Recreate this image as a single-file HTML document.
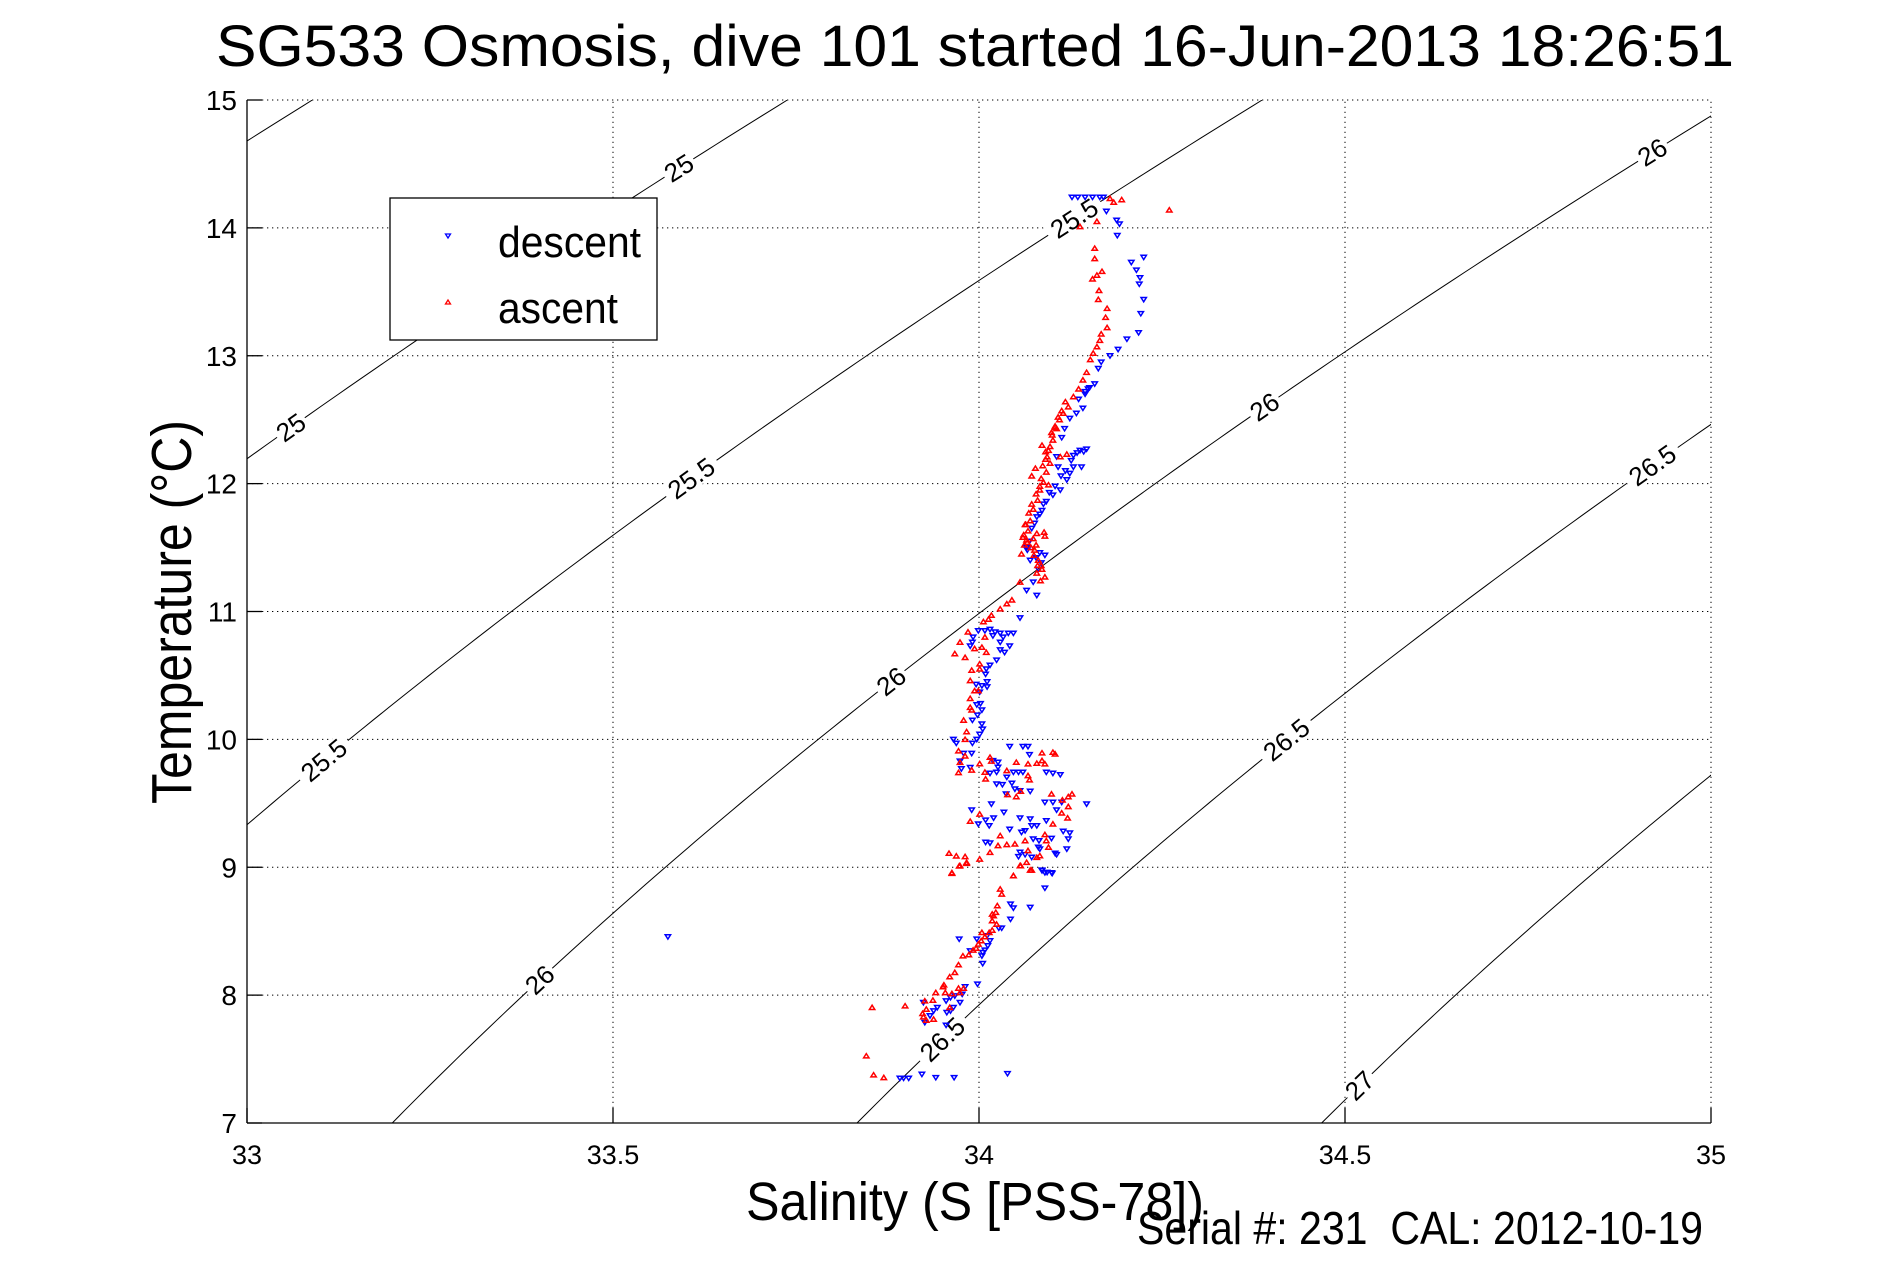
<!DOCTYPE html>
<html><head><meta charset="utf-8"><style>
html,body{margin:0;padding:0;background:#fff;}
svg{display:block;font-family:"Liberation Sans",sans-serif;}
</style></head><body>
<svg id="chart" width="1891" height="1262" viewBox="0 0 1891 1262" xmlns="http://www.w3.org/2000/svg">
<rect width="1891" height="1262" fill="#fff"/>
<text x="216" y="66" font-size="58" textLength="1518" lengthAdjust="spacingAndGlyphs">SG533 Osmosis, dive 101 started 16-Jun-2013 18:26:51</text>
<defs><clipPath id="plotclip"><rect x="247" y="100" width="1464" height="1023"/></clipPath></defs>
<g id="grid"></g>
<g id="contours" clip-path="url(#plotclip)"></g>
<g id="clabels"></g>
<g id="descent"></g>
<g id="ascent"></g>
<g id="axes"></g>
<text transform="translate(191,612) rotate(-90)" text-anchor="middle" font-size="57" textLength="384" lengthAdjust="spacingAndGlyphs">Temperature (°C)</text>
<text x="746" y="1220" font-size="54" textLength="458" lengthAdjust="spacingAndGlyphs">Salinity (S [PSS-78])</text>
<text x="1137" y="1244" font-size="46" textLength="566" lengthAdjust="spacingAndGlyphs">Serial #: 231&#160; CAL: 2012-10-19</text>
<g>
<rect x="390" y="198" width="267" height="142" fill="#fff" stroke="#000" stroke-width="1.3"/>
<path d="M445.5,234 L450.5,234 L448,238 Z" fill="none" stroke="#00f" stroke-width="1.3"/>
<text x="498" y="257" font-size="44" textLength="143" lengthAdjust="spacingAndGlyphs">descent</text>
<path d="M445.5,304 L450.5,304 L448,300 Z" fill="none" stroke="#f00" stroke-width="1.3"/>
<text x="498" y="323" font-size="44" textLength="120" lengthAdjust="spacingAndGlyphs">ascent</text>
</g>
</svg>
<script>
const xTicks = [33, 33.5, 34, 34.5, 35];
const xTickLabels = ["33", "33.5", "34", "34.5", "35"];
const yTicks = [7, 8, 9, 10, 11, 12, 13, 14, 15];
const yTickLabels = ["7", "8", "9", "10", "11", "12", "13", "14", "15"];
const sigmaLevels = [24.5, 25, 25.5, 26, 26.5, 27];
const labelLevels = [25, 25, 25.5, 25.5, 25.5, 26, 26, 26, 26, 26.5, 26.5, 26.5, 27];
const labelSal = [33.59, 33.06, 33.105, 33.607, 34.13, 33.40, 33.88, 34.39, 34.92, 33.95, 34.42, 34.92, 34.52];
const descentS = [34.127,34.135,34.145,34.155,34.165,34.170,34.174,34.188,34.192,34.189,34.225,34.208,34.215,34.220,34.219,34.225,34.221,34.218,34.202,34.190,34.179,34.167,34.163,
34.158,34.149,34.145,34.142,34.133,34.124,34.117,34.113,34.147,34.138,34.129,34.140,34.129,34.124,34.120,34.111,34.101,34.092,34.086,34.079,34.072,34.065,34.083,34.090,34.081,34.106,34.108,
34.065,34.079,34.074,34.056,33.999,34.008,34.015,34.022,34.029,34.040,34.047,34.033,34.029,34.042,34.019,33.992,33.988,33.991,34.029,34.035,34.024,34.015,34.010,34.009,
34.011,34.011,34.004,33.996,34.001,34.002,33.997,34.004,33.998,33.991,34.004,34.005,34.001,33.997,33.991,33.965,33.969,33.974,33.976,33.979,33.990,33.988,
34.042,34.060,34.067,34.069,34.019,34.026,34.026,34.015,34.024,34.047,34.054,34.060,34.038,34.045,34.024,34.032,34.049,34.056,34.070,34.037,34.092,34.101,34.111,34.017,34.034,34.056,34.070,34.072,34.079,34.092,34.106,34.113,34.090,34.101,34.147,34.115,34.124,34.122,34.014,34.020,34.009,34.042,34.058,34.063,34.074,34.082,34.099,34.083,34.081,34.120,34.056,34.054,34.063,34.072,34.104,34.106,34.086,34.090,34.099,34.009,34.015,33.999,33.990,
34.086,34.093,34.100,34.090,34.043,34.047,34.070,34.043,34.027,34.031,34.011,34.015,34.012,34.008,34.005,33.997,33.988,33.973,34.004,34.005,33.998,33.981,33.977,33.974,33.967,33.961,33.955,33.943,33.938,33.933,33.926,33.955,33.965,33.961,33.956,33.924,33.922,33.941,33.966,33.904,33.892,33.897,34.039,33.575,
34.143,34.134,34.126,34.118,34.112,34.104,34.096,34.088,34.083,34.076,34.069,34.066,34.070,34.078,34.085,34.151,34.145,34.136];
const descentT = [14.24,14.24,14.24,14.24,14.24,14.24,14.13,14.06,14.03,13.94,13.77,13.73,13.67,13.61,13.56,13.44,13.33,13.18,13.13,13.05,13.00,12.95,12.90,
12.78,12.74,12.70,12.59,12.55,12.51,12.43,12.36,12.27,12.26,12.22,12.13,12.13,12.08,12.03,11.95,11.91,11.86,11.79,11.74,11.65,11.50,11.46,11.44,11.33,12.21,12.13,
11.165,11.126,11.23,10.95,10.85,10.85,10.86,10.84,10.83,10.83,10.83,10.80,10.76,10.73,10.81,10.80,10.73,10.76,10.70,10.68,10.62,10.58,10.55,10.51,
10.45,10.41,10.42,10.43,10.37,10.28,10.27,10.23,10.19,10.15,10.12,10.08,10.04,10.00,9.97,10.00,9.97,9.83,9.77,9.89,9.89,9.78,
9.944,9.944,9.944,9.881,9.834,9.821,9.782,9.735,9.743,9.743,9.743,9.743,9.704,9.657,9.651,9.646,9.612,9.599,9.594,9.573,9.743,9.735,9.724,9.495,9.430,9.385,9.377,9.325,9.325,9.364,9.448,9.508,9.508,9.508,9.495,9.281,9.268,9.221,9.325,9.385,9.369,9.297,9.273,9.286,9.221,9.208,9.226,9.143,9.156,9.143,9.117,9.083,9.099,9.078,9.109,9.099,8.973,8.957,8.957,9.195,9.190,9.338,9.448,
8.978,8.960,8.952,8.837,8.712,8.681,8.686,8.594,8.524,8.524,8.464,8.425,8.386,8.352,8.333,8.438,8.346,8.438,8.307,8.247,8.086,8.065,8.007,7.942,7.994,7.981,7.955,7.903,7.877,7.838,7.786,7.765,7.903,7.877,7.864,7.942,7.381,7.355,7.355,7.350,7.350,7.350,7.386,8.456,
12.25,12.24,12.18,12.10,12.06,11.98,11.93,11.84,11.76,11.69,11.55,11.48,11.40,11.42,11.38,12.75,12.72,12.66];
const ascentS = [34.179,34.184,34.195,34.260,34.161,34.138,34.158,34.158,34.168,34.161,34.155,34.164,34.163,34.175,34.173,34.175,34.167,34.165,34.161,34.156,34.152,34.147,34.142,34.136,34.129,34.122,34.115,34.110,34.106,34.101,34.097,34.093,34.097,34.111,34.120,34.088,34.095,34.083,34.080,34.074,34.070,34.067,34.060,34.065,34.090,34.076,34.081,34.079,
34.104,34.099,34.086,34.091,34.077,34.072,34.064,34.062,34.058,34.089,34.085,
34.056,34.045,34.038,34.029,34.017,34.013,34.006,33.985,33.974,33.967,33.981,33.994,34.004,34.008,34.010,34.001,34.001,33.990,33.988,33.994,33.999,33.988,33.988,33.990,33.979,33.983,33.981,33.972,33.981,33.974,33.972,33.990,34.001,34.015,34.017,
34.008,34.009,34.038,34.051,34.067,34.067,34.069,34.079,34.086,34.090,34.086,34.101,34.104,34.099,34.127,34.122,34.114,34.122,34.113,34.121,34.101,34.090,34.092,34.095,34.083,34.079,34.067,34.063,34.049,34.038,34.026,34.029,34.015,34.001,33.988,34.001,33.983,33.981,33.969,33.959,33.973,33.963,34.047,34.056,34.070,34.039,34.051,34.057,
33.963,33.974,33.983,34.047,34.057,34.072,34.065,34.029,34.031,34.025,34.018,34.020,34.023,34.018,34.024,34.018,34.014,34.004,34.008,34.003,33.999,33.996,33.992,33.986,33.978,33.972,33.967,33.960,33.952,33.951,33.941,33.954,33.963,33.972,33.979,33.974,33.937,33.926,33.928,33.923,33.924,33.928,33.938,33.899,33.854,33.846,33.856,33.870,33.960,
34.095,34.091,34.087,34.092,34.085,34.083,34.078,34.072,34.068,34.063,34.061,34.066,34.071,34.075,34.080,34.086,34.090,34.084,34.078,34.074,34.079,34.100,34.104,34.108,34.113,34.118];
const ascentT = [14.23,14.20,14.22,14.14,14.05,14.01,13.84,13.76,13.66,13.63,13.60,13.51,13.44,13.37,13.30,13.22,13.17,13.12,13.07,13.02,12.97,12.87,12.81,12.74,12.68,12.60,12.55,12.50,12.43,12.34,12.29,12.21,12.16,12.21,12.23,12.01,11.99,11.95,11.87,11.80,11.71,11.63,11.58,11.56,11.59,11.48,11.40,11.30,
12.45,12.40,12.30,12.25,12.12,12.06,11.68,11.52,11.45,11.62,11.36,
11.23,11.09,11.06,11.02,10.97,10.94,10.92,10.84,10.76,10.67,10.64,10.71,10.72,10.80,10.68,10.59,10.55,10.54,10.46,10.38,10.38,10.32,10.25,10.23,10.15,10.06,10.00,9.91,9.87,9.82,9.74,9.76,9.81,9.86,9.83,
9.743,9.690,9.756,9.821,9.808,9.717,9.683,9.813,9.834,9.808,9.894,9.899,9.886,9.573,9.573,9.552,9.526,9.474,9.424,9.385,9.338,9.255,9.208,9.156,9.090,9.077,9.130,9.208,9.182,9.177,9.169,9.247,9.116,9.416,9.359,9.064,9.030,9.083,9.088,9.109,9.010,8.957,8.934,9.012,8.978,9.568,9.552,9.594,
8.952,9.012,9.038,8.934,9.012,8.978,9.038,8.829,8.790,8.699,8.634,8.620,8.647,8.581,8.555,8.508,8.490,8.490,8.456,8.425,8.399,8.367,8.352,8.315,8.307,8.237,8.177,8.143,8.080,8.065,8.020,8.020,8.012,8.054,8.054,8.020,7.960,7.955,7.890,7.856,7.830,7.804,7.812,7.916,7.903,7.525,7.376,7.355,7.903,
12.26,12.19,12.14,12.09,12.04,11.98,11.92,11.84,11.77,11.68,11.60,11.54,11.50,11.44,11.36,11.33,11.27,11.24,11.52,11.57,11.61,12.38,12.44,12.52,12.57,12.64];

const NS = "http://www.w3.org/2000/svg";
const X0 = 247, X1 = 1711, Y0 = 1123, Y1 = 100;
function xs(s){ return X0 + (s - 33) / 2 * (X1 - X0); }
function ys(t){ return Y0 - (t - 7) / 8 * (Y0 - Y1); }
function mk(tag, attrs, parent){ const e = document.createElementNS(NS, tag); for (const k in attrs) e.setAttribute(k, attrs[k]); parent.appendChild(e); return e; }
function sigma(S, T){
  const rw = 999.842594 + 6.793952e-2*T - 9.095290e-3*T*T + 1.001685e-4*T*T*T - 1.120083e-6*T**4 + 6.536332e-9*T**5;
  const A = 8.24493e-1 - 4.0899e-3*T + 7.6438e-5*T*T - 8.2467e-7*T**3 + 5.3875e-9*T**4;
  const B = -5.72466e-3 + 1.0227e-4*T - 1.6546e-6*T*T;
  return rw + A*S + B*Math.pow(S,1.5) + 4.8314e-4*S*S - 1000;
}
function solveS(sig, T){ let a=30, b=38; for(let i=0;i<50;i++){ const m=(a+b)/2; if (sigma(m,T) < sig) a=m; else b=m; } return (a+b)/2; }
function solveT(sig, S){ let a=-2, b=30; for(let i=0;i<50;i++){ const m=(a+b)/2; if (sigma(S,m) > sig) a=m; else b=m; } return (a+b)/2; }

const grid = document.getElementById('grid');
xTicks.forEach((v, i) => {
  if (i > 0) {
    const g = mk('line', {x1: xs(v), y1: Y0, x2: xs(v), y2: Y1, stroke: '#000', 'stroke-width': 1, 'stroke-dasharray': '1.3 3.7'}, grid);
    
    
  }
});
yTicks.forEach((v, i) => {
  if (i > 0) {
    const g = mk('line', {x1: X0, y1: ys(v), x2: X1, y2: ys(v), stroke: '#000', 'stroke-width': 1, 'stroke-dasharray': '1.3 3.7'}, grid);
    
    
  }
});

const cg = document.getElementById('contours');
sigmaLevels.forEach(lv => {
  let d = '';
  for (let t = 6.5; t <= 15.5001; t += 0.05) {
    const s = solveS(lv, t);
    d += (d ? ' L' : 'M') + xs(s).toFixed(2) + ',' + ys(t).toFixed(2);
  }
  const p = mk('path', {d: d, fill: 'none', stroke: '#000', 'stroke-width': 1}, cg);
  
  
});

const lg = document.getElementById('clabels');
labelLevels.forEach((lv, i) => {
  const s = labelSal[i];
  const t = solveT(lv, s);
  const t2 = solveT(lv, s + 0.01);
  const px = xs(s), py = ys(t);
  const ang = Math.atan2(ys(t2) - py, xs(s + 0.01) - px) * 180 / Math.PI;
  const txt = String(lv);
  const w = txt.length * 14 + 6;
  const grp = mk('g', {transform: 'translate(' + px.toFixed(1) + ',' + py.toFixed(1) + ') rotate(' + ang.toFixed(1) + ')'}, lg);
  
  
  mk('rect', {x: -w/2, y: -11, width: w, height: 22, fill: '#fff'}, grp);
  const te = mk('text', {x: 0, y: 9, 'text-anchor': 'middle', 'font-size': 26}, grp);
  te.textContent = txt;
});

const dg = document.getElementById('descent');
descentS.forEach((s, i) => {
  const x = xs(s), y = ys(descentT[i]);
  const m = mk('path', {d: 'M' + (x-2.7).toFixed(1) + ',' + (y-2).toFixed(1) + ' L' + (x+2.7).toFixed(1) + ',' + (y-2).toFixed(1) + ' L' + x.toFixed(1) + ',' + (y+2.3).toFixed(1) + ' Z', fill: 'none', stroke: '#00f', 'stroke-width': 1.5}, dg);
  
  
});
const ag = document.getElementById('ascent');
ascentS.forEach((s, i) => {
  const x = xs(s), y = ys(ascentT[i]);
  const m = mk('path', {d: 'M' + (x-2.7).toFixed(1) + ',' + (y+2).toFixed(1) + ' L' + (x+2.7).toFixed(1) + ',' + (y+2).toFixed(1) + ' L' + x.toFixed(1) + ',' + (y-2.3).toFixed(1) + ' Z', fill: 'none', stroke: '#f00', 'stroke-width': 1.5}, ag);
  
  
});

const ax = document.getElementById('axes');
const la = mk('line', {x1: X0, y1: Y1, x2: X0, y2: Y0, stroke: '#000', 'stroke-width': 1.3}, ax);


const ba = mk('line', {x1: X0, y1: Y0, x2: X1, y2: Y0, stroke: '#000', 'stroke-width': 1.3}, ax);


xTicks.forEach((v, i) => {
  const tk = mk('line', {x1: xs(v), y1: Y0, x2: xs(v), y2: Y0 - 15, stroke: '#000', 'stroke-width': 1.3}, ax);
  
  
  const tl = mk('text', {x: xs(v), y: 1164, 'text-anchor': 'middle', 'font-size': 27}, ax);
  
  
  tl.textContent = xTickLabels[i];
});
yTicks.forEach((v, i) => {
  const tk = mk('line', {x1: X0, y1: ys(v), x2: X0 + 15, y2: ys(v), stroke: '#000', 'stroke-width': 1.3}, ax);
  
  
  const tl = mk('text', {x: 237, y: ys(v) + 10, 'text-anchor': 'end', 'font-size': 28}, ax);
  
  
  tl.textContent = yTickLabels[i];
});
</script>
</body></html>
